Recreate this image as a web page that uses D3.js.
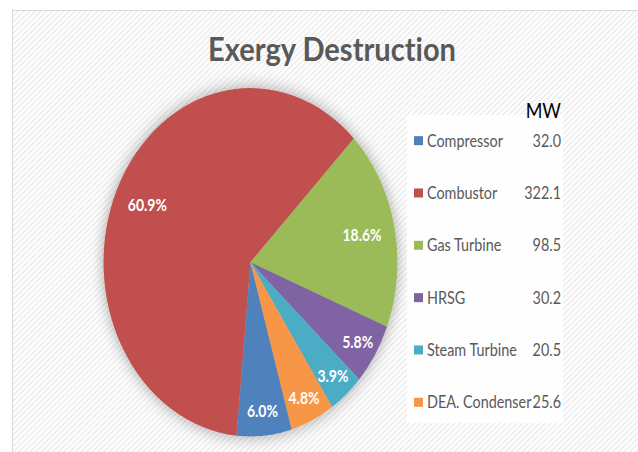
<!DOCTYPE html>
<html>
<head>
<meta charset="utf-8">
<script src="https://cdn.jsdelivr.net/npm/d3@7"></script>
<style>
  html, body { margin: 0; padding: 0; background: #fff; }
  svg { display: block; }
</style>
</head>
<body>
<svg id="chart"></svg>
<script>
// data
const categories = ["Compressor", "Combustor", "Gas Turbine", "HRSG", "Steam Turbine", "DEA. Condenser"]
const valuesMW = [32.0, 322.1, 98.5, 30.2, 20.5, 25.6]
const percentLabels = ["6.0%", "60.9%", "18.6%", "5.8%", "3.9%", "4.8%"]
const colors = ["#4F81BD", "#C0504D", "#9BBB59", "#8064A2", "#4BACC6", "#F79646"]
const titleText = "Exergy Destruction"
const unitText = "MW"

const width = 638
const height = 452
const sy = 1.185   // the picture is stretched vertically

const svg = d3.select("#chart")
    .attr("width", width)
    .attr("height", height)

const defs = svg.append("defs")
const stripes = defs.append("pattern")
    .attr("id", "stripes")
    .attr("patternUnits", "userSpaceOnUse")
    .attr("width", 4)
    .attr("height", 4)
    .attr("patternTransform", "rotate(-45)")
stripes.append("rect").attr("width", 4).attr("height", 4).attr("fill", "#fff")
stripes.append("rect").attr("width", 4).attr("height", 1.6).attr("fill", "#ececec")

const shadow = defs.append("filter")
    .attr("id", "glow")
    .attr("x", "-20%").attr("y", "-20%")
    .attr("width", "140%").attr("height", "140%")
shadow.append("feGaussianBlur")
    .attr("in", "SourceAlpha")
    .attr("stdDeviation", 7)
    .attr("result", "blur")
shadow.append("feComponentTransfer")
    .append("feFuncA").attr("type", "linear").attr("slope", 0.35)
const merge = shadow.append("feMerge")
merge.append("feMergeNode")
merge.append("feMergeNode").attr("in", "SourceGraphic")

// chart area with border
svg.append("rect")
    .attr("x", 12.5)
    .attr("y", 10.5)
    .attr("width", width)
    .attr("height", height)
    .attr("fill", "url(#stripes)")
    .attr("stroke", "#d9d9d9")

const g = svg.append("g")
    .attr("transform", `scale(1,${sy})`)

// title
g.append("text")
    .attr("x", 332)
    .attr("y", 51.5)
    .attr("text-anchor", "middle")
    .attr("textLength", 248)
    .attr("lengthAdjust", "spacingAndGlyphs")
    .style("font", "bold 27px Lato, 'Open Sans', sans-serif")
    .style("font-variant-ligatures", "none")
    .style("font-feature-settings", "'liga' 0, 'clig' 0, 'dlig' 0")
    .attr("fill", "#595959")
    .text(titleText)

// pie
const cx = 250.5
const cy = 221.3
const radius = 147
const startAngle = 163.7 * Math.PI / 180
const total = d3.sum(valuesMW)

const pie = d3.pie()
    .sort(null)
    .startAngle(startAngle)
    .endAngle(startAngle + 2 * Math.PI)
    .value(d => d.value)

const slices = pie(categories.map((c, i) => ({name: c, value: valuesMW[i], label: percentLabels[i], color: colors[i]})))

const arc = d3.arc().innerRadius(0).outerRadius(radius)

const pieG = g.append("g")
    .attr("transform", `translate(${cx},${cy})`)

pieG.append("g")
    .attr("filter", "url(#glow)")
    .selectAll("path")
    .data(slices)
    .join("path")
    .attr("d", arc)
    .attr("fill", d => d.data.color)

const labelPos = d => {
  const share = d.data.value / total
  const r = radius * (share > 0.1 ? 0.775 : 0.86)
  return d3.arc().innerRadius(r).outerRadius(r).centroid(d)
}

pieG.append("g")
    .selectAll("text")
    .data(slices)
    .join("text")
    .attr("x", d => labelPos(d)[0])
    .attr("y", d => labelPos(d)[1])
    .attr("dy", "0.36em")
    .attr("text-anchor", "middle")
    .style("font", "bold 14px Lato, 'Open Sans', sans-serif")
    .attr("fill", "#fff")
    .text(d => d.data.label)

// legend
g.append("rect")
    .attr("x", 407)
    .attr("y", 97)
    .attr("width", 156)
    .attr("height", 260)
    .attr("fill", "#fff")
    .attr("opacity", 0.85)

g.append("text")
    .attr("x", 561)
    .attr("y", 99.6)
    .attr("text-anchor", "end")
    .style("font", "18px Lato, 'Open Sans', sans-serif")
    .attr("fill", "#000")
    .text(unitText)

const rowY = d3.scalePoint()
    .domain(categories)
    .range([118.7, 339.5])

const rows = g.append("g")
    .selectAll("g")
    .data(slices)
    .join("g")
    .attr("transform", d => `translate(0,${rowY(d.data.name)})`)

rows.append("rect")
    .attr("x", 414)
    .attr("y", -3.8)
    .attr("width", 9)
    .attr("height", 7.6)
    .attr("fill", d => d.data.color)

rows.append("text")
    .attr("x", 427)
    .attr("y", 5)
    .style("font", "14.4px Lato, 'Open Sans', sans-serif")
    .attr("fill", "#595959")
    .text(d => d.data.name)

rows.append("text")
    .attr("x", 561)
    .attr("y", 5)
    .attr("text-anchor", "end")
    .style("font", "14.4px Lato, 'Open Sans', sans-serif")
    .attr("fill", "#595959")
    .text(d => d3.format(".1f")(d.data.value))
</script>
</body>
</html>
